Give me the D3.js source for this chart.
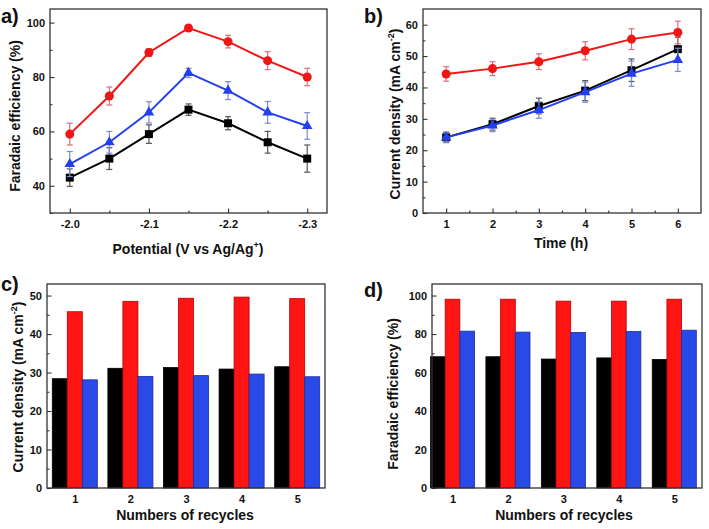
<!DOCTYPE html>
<html><head><meta charset="utf-8">
<script src="https://cdn.jsdelivr.net/npm/d3@7"></script>
<style>body{margin:0;background:#fff}svg{display:block}text{font-family:"Liberation Sans",Arial,sans-serif;font-weight:bold;fill:#111}</style>
</head><body><svg id="c" width="709" height="529"></svg>
<script>
// ---- data ----
const potentials = [-2.0, -2.05, -2.1, -2.15, -2.2, -2.25, -2.3];
const potTicks = [-2.0, -2.1, -2.2, -2.3];
const feRedA = [59, 73, 89, 98, 93, 86, 80];
const feRedAErr = [4, 3.3, 1.4, 0.7, 2.3, 3.3, 3.2];
const feBlueA = [48, 56, 67, 81.5, 75, 67, 62];
const feBlueAErr = [4.6, 4, 3.9, 1.7, 3.3, 4, 4.9];
const feBlackA = [43, 50, 59, 68, 63, 56, 50];
const feBlackAErr = [3.2, 4, 3.4, 2.1, 2.4, 4, 5];

const times = [1, 2, 3, 4, 5, 6];
const cdRedB = [44.3, 46.0, 48.2, 51.7, 55.4, 57.5];
const cdRedBErr = [2.3, 2.2, 2.5, 2.9, 3.3, 3.6];
const cdBlackB = [24.1, 28.3, 34.1, 39.0, 45.5, 52.2];
const cdBlackBErr = [1.6, 1.9, 2.5, 3.2, 3.6, 3.8];
const cdBlueB = [24.1, 27.9, 32.8, 38.5, 44.4, 48.8];
const cdBlueBErr = [1.7, 2.0, 2.6, 3.2, 4.0, 3.7];

const recycles = [1, 2, 3, 4, 5];
const cdBlackC = [28.4, 31.1, 31.3, 30.9, 31.5];
const cdRedC = [45.8, 48.5, 49.3, 49.6, 49.2];
const cdBlueC = [28.1, 29.0, 29.2, 29.6, 28.9];
const feBlackD = [68.2, 68.2, 67.0, 67.6, 66.8];
const feRedD = [98.1, 98.1, 97.1, 97.1, 98.1];
const feBlueD = [81.5, 81.0, 80.8, 81.3, 82.0];

// ---- styles ----
const RED = "#f21515", BLUE = "#2240ee", BLACK = "#000";
const RED_ERR = "#d9707e", BLUE_ERR = "#7d8ad6", BLACK_ERR = "#555";
const BAR_RED = "#ff1414", BAR_BLUE = "#2a4ae8";

const svg = d3.select("#c");

function panel(o) {
  const g = svg.append("g");
  const x = d3.scaleLinear().domain(o.xd).range([o.x0, o.x1]);
  const y = d3.scaleLinear().domain(o.yd).range([o.y1, o.y0]);
  // minor ticks
  if (o.xMinor) g.append("g").attr("transform", `translate(0,${o.y1})`)
    .call(d3.axisBottom(x).tickValues(o.xMinor).tickSize(-2.5).tickFormat(""));
  if (o.yMinor) g.append("g").attr("transform", `translate(${o.x0},0)`)
    .call(d3.axisLeft(y).tickValues(o.yMinor).tickSize(-2.5).tickFormat(""));
  const ax = g.append("g").attr("transform", `translate(0,${o.y1})`)
    .call(d3.axisBottom(x).tickValues(o.xTicks).tickSize(-4.5).tickPadding(7).tickFormat(o.xFmt));
  const ay = g.append("g").attr("transform", `translate(${o.x0},0)`)
    .call(d3.axisLeft(y).tickValues(o.yTicks).tickSize(-4.5).tickPadding(5).tickFormat(d => d));
  g.selectAll(".domain").remove();
  g.selectAll(".tick line").attr("stroke", "#333").attr("stroke-width", 1.1);
  g.selectAll(".tick text").attr("font-size", 11).attr("font-family", "'Liberation Sans',Arial,sans-serif").attr("font-weight", "bold").attr("fill", "#111");
  const plot = svg.append("g");
  // frame drawn after
  svg.append("rect").attr("x", o.x0).attr("y", o.y0).attr("width", o.x1 - o.x0).attr("height", o.y1 - o.y0)
    .attr("fill", "none").attr("stroke", "#333").attr("stroke-width", 1.3);
  // label
  svg.append("text").attr("x", o.lx).attr("y", o.ly).attr("font-size", 20).text(o.label);
  // x title
  const xt = svg.append("text").attr("x", o.xtx).attr("y", o.xty).attr("text-anchor", "middle").attr("font-size", 14);
  o.xTitle(xt);
  const yt = svg.append("text").attr("transform", `translate(${o.ytx},${o.yty}) rotate(-90)`).attr("text-anchor", "middle").attr("font-size", 14);
  o.yTitle(yt);
  return {x, y, plot};
}

function series(p, xs, ys, errs, color, ecolor, sym, size) {
  const g = p.plot.append("g");
  xs.forEach((xv, i) => {
    const cx = p.x(xv), t = p.y(ys[i] + errs[i]), b = p.y(ys[i] - errs[i]);
    g.append("line").attr("x1", cx).attr("x2", cx).attr("y1", t).attr("y2", b).attr("stroke", ecolor).attr("stroke-width", 1.2);
    [t, b].forEach(yy => g.append("line").attr("x1", cx - 3).attr("x2", cx + 3).attr("y1", yy).attr("y2", yy).attr("stroke", ecolor).attr("stroke-width", 1.2));
  });
  g.append("path").datum(xs.map((xv, i) => [xv, ys[i]]))
    .attr("d", d3.line().x(d => p.x(d[0])).y(d => p.y(d[1])))
    .attr("fill", "none").attr("stroke", color).attr("stroke-width", 2);
  g.selectAll("path.m").data(xs.map((xv, i) => [xv, ys[i]])).join("path").attr("class", "m")
    .attr("transform", d => `translate(${p.x(d[0])},${p.y(d[1])})`)
    .attr("d", d3.symbol().type(sym).size(size)).attr("fill", color);
}

function bars(p, cats, sets, w) {
  sets.forEach((s, k) => {
    p.plot.append("g").selectAll("rect").data(cats).join("rect")
      .attr("x", (c) => p.x(c + (k - 1) * w - w / 2))
      .attr("width", (c) => p.x(c + w / 2) - p.x(c - w / 2))
      .attr("y", (c, i) => p.y(s.v[i]))
      .attr("height", (c, i) => p.y(0) - p.y(s.v[i]))
      .attr("fill", s.c).attr("stroke", s.s).attr("stroke-width", 0.8);
  });
}

const cdTitle = t => { t.append("tspan").text("Current density (mA cm"); t.append("tspan").attr("font-size", 9).attr("dy", -6).text("-2"); t.append("tspan").attr("dy", 6).text(")"); };
const feTitle = t => t.text("Faradaic efficiency (%)");
const recTitle = t => t.text("Numbers of recycles");

// a)
const pa = panel({x0: 50, x1: 327, y0: 9, y1: 213, xd: [-1.975, -2.325], yd: [30, 105],
  xTicks: potTicks, xMinor: [-2.05, -2.15, -2.25], xFmt: d => d.toFixed(1),
  yTicks: [40, 60, 80, 100], yMinor: [30, 50, 70, 90],
  label: "a)", lx: 1, ly: 23, xtx: 188, xty: 254,
  xTitle: t => { t.append("tspan").text("Potential (V vs Ag/Ag"); t.append("tspan").attr("font-size", 9).attr("dy", -6).text("+"); t.append("tspan").attr("dy", 6).text(")"); },
  ytx: 20, yty: 116, yTitle: feTitle});
series(pa, potentials, feBlackA, feBlackAErr, BLACK, BLACK_ERR, d3.symbolSquare, 64);
series(pa, potentials, feBlueA, feBlueAErr, BLUE, BLUE_ERR, d3.symbolTriangle, 48);
series(pa, potentials, feRedA, feRedAErr, RED, RED_ERR, d3.symbolCircle, 64);

// b)
const pb = panel({x0: 423, x1: 701, y0: 9, y1: 213, xd: [0.5, 6.5], yd: [0, 65],
  xTicks: times, xMinor: [1.5, 2.5, 3.5, 4.5, 5.5], xFmt: d => d,
  yTicks: [0, 10, 20, 30, 40, 50, 60], yMinor: [5, 15, 25, 35, 45, 55],
  label: "b)", lx: 364, ly: 23, xtx: 561, xty: 248, xTitle: t => t.text("Time (h)"),
  ytx: 400, yty: 114, yTitle: cdTitle});
series(pb, times, cdBlackB, cdBlackBErr, BLACK, BLACK_ERR, d3.symbolSquare, 64);
series(pb, times, cdBlueB, cdBlueBErr, BLUE, BLUE_ERR, d3.symbolTriangle, 48);
series(pb, times, cdRedB, cdRedBErr, RED, RED_ERR, d3.symbolCircle, 64);

// c)
const pc = panel({x0: 47, x1: 325, y0: 284, y1: 488, xd: [0.5, 5.5], yd: [0, 53],
  xTicks: recycles, xMinor: null, xFmt: d => d,
  yTicks: [0, 10, 20, 30, 40, 50], yMinor: [5, 15, 25, 35, 45],
  label: "c)", lx: 1, ly: 291, xtx: 185, xty: 520, xTitle: recTitle,
  ytx: 23, yty: 387, yTitle: cdTitle});
bars(pc, recycles, [{v: cdBlackC, c: "#000", s: "#000"}, {v: cdRedC, c: BAR_RED, s: "#b00"}, {v: cdBlueC, c: BAR_BLUE, s: "#1a2aa0"}], 0.27);

// d)
const pd = panel({x0: 432, x1: 702, y0: 284, y1: 488, xd: [0.63, 5.5], yd: [0, 106],
  xTicks: recycles, xMinor: null, xFmt: d => d,
  yTicks: [0, 20, 40, 60, 80, 100], yMinor: [10, 30, 50, 70, 90],
  label: "d)", lx: 364, ly: 297, xtx: 564, xty: 520, xTitle: recTitle,
  ytx: 398, yty: 394, yTitle: feTitle});
bars(pd, recycles, [{v: feBlackD, c: "#000", s: "#000"}, {v: feRedD, c: BAR_RED, s: "#b00"}, {v: feBlueD, c: BAR_BLUE, s: "#1a2aa0"}], 0.265);
</script></body></html>
